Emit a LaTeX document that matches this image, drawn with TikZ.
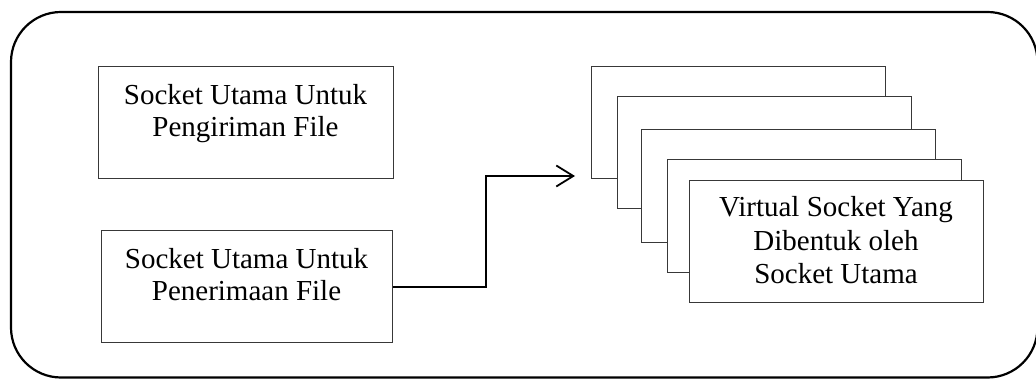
\documentclass[tikz,border=0pt]{standalone}
\usepackage{fontspec}
\setmainfont{Liberation Serif}
\usetikzlibrary{arrows.meta}
\begin{document}
\begin{tikzpicture}[x=1pt,y=-1pt,
  frame/.style={draw=black, line width=2.2pt, rounded corners=50pt},
  box/.style={draw=black!78, line width=1.3pt, fill=white, anchor=north west, inner sep=0pt, minimum width=294pt},
  txt/.style={align=center, inner sep=0pt, anchor=north, font=\fontsize{29}{32}\selectfont},
  txtv/.style={txt, font=\fontsize{29}{33.5}\selectfont},
  conn/.style={draw=black, line width=2pt, -{Straight Barb[length=17pt,width=21pt,line width=1.8pt]}}]
\useasboundingbox (0,0) rectangle (1036,379);

% outer rounded frame
\draw[frame] (11,12) rectangle (1037.5,377.5);

% main sockets
\node[box, minimum width=295pt, minimum height=112pt] (send) at (98,66) {};
\node[txt] (sendtxt) at (245.5,84.4) {Socket Utama Untuk\\Pengiriman File};
\node[box, minimum width=291pt, minimum height=112pt] (recv) at (101,230) {};
\node[txt] (recvtxt) at (246.5,248.4) {Socket Utama Untuk\\Penerimaan File};

% stacked virtual sockets, back to front
\node[box, minimum height=112pt] (v1) at (591,66) {};
\node[box, minimum height=112pt] (v2) at (617,96) {};
\node[box, minimum height=113pt] (v3) at (641,129) {};
\node[box, minimum height=113pt] (v4) at (667,159) {};
\node[box, minimum height=122pt] (v5) at (689,180) {};
\node[txtv] (v5txt) at (836,196.4) {Virtual Socket Yang\\Dibentuk oleh\\Socket Utama};

% connector from the receiving socket to the virtual sockets
\coordinate (bend) at (486,176);
\coordinate (tip) at (575,176);
\draw[conn] (recv.east) -| (bend) -- (tip);
\end{tikzpicture}
\end{document}
